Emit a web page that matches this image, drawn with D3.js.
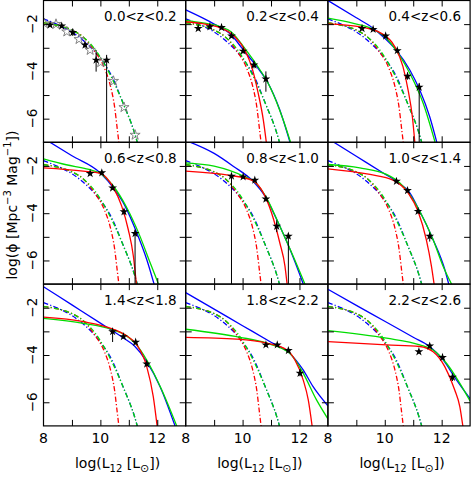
<!DOCTYPE html>
<html>
<head>
<meta charset="utf-8">
<title>luminosity functions</title>
<script src="https://d3js.org/d3.v7.min.js"></script>
<style>
  body { margin: 0; background: #fff; }
  text { font-family: "DejaVu Sans", sans-serif; }
</style>
</head>
<body>
<script>
// redshift bins, one panel each
var zLabels = ["0.0<z<0.2", "0.2<z<0.4", "0.4<z<0.6",
               "0.6<z<0.8", "0.8<z<1.0", "1.0<z<1.4",
               "1.4<z<1.8", "1.8<z<2.2", "2.2<z<2.6"]

var xTickLabels = [8, 10, 12]
var yTickLabels = [-2, -4, -6]
var xTicks = [9, 10, 11, 12]
var yTicks = [-2, -3, -4, -5, -6]

// local (z~0) fits, drawn dash-dot in every panel
var localBlue = [[8,-1.78],[8.5,-2.02],[9,-2.33],[9.5,-2.8],[10,-3.45],[10.4,-4.2],[10.8,-5.35],[11.2,-6.6],[11.32,-7.1]]
var localGreen = [[8,-1.95],[8.5,-2.05],[9,-2.25],[9.4,-2.55],[9.8,-3.05],[10.1,-3.6],[10.45,-4.4],[10.85,-5.5],[11.2,-6.6],[11.32,-7.1]]
var localRed = [[8,-1.95],[8.5,-2.05],[9,-2.25],[9.4,-2.55],[9.8,-3.15],[10.15,-3.88],[10.35,-4.6],[10.5,-5.5],[10.6,-6.5],[10.66,-7.1]]

// fits per bin (solid lines)
var blueFit = [
  null,
  [[8,-1.4],[9,-2.0],[9.6,-2.45],[10,-3.05],[10.5,-3.8],[10.9,-4.5],[11.3,-5.6],[11.68,-7.05]],
  [[8,-1.0],[9,-1.73],[9.6,-2.18],[10,-2.6],[10.4,-3.1],[10.88,-3.94],[11.23,-4.79],[11.58,-5.92],[11.84,-7.05]],
  [[8,-0.83],[9,-1.57],[10,-2.3],[10.46,-2.93],[10.87,-3.7],[11.28,-4.83],[11.63,-5.96],[11.9,-7.05]],
  [[8,-0.92],[9,-1.47],[9.67,-2.01],[10.37,-2.65],[10.79,-3.28],[11.2,-4.27],[11.67,-5.54],[12.15,-7.05]],
  [[8,-0.84],[9,-1.59],[10,-2.34],[10.41,-2.65],[10.88,-3.14],[11.23,-3.92],[11.7,-5.12],[12.11,-6.38],[12.26,-7.05]],
  [[8,-1.11],[9,-1.88],[10,-2.65],[10.8,-3.27],[11.2,-3.62],[11.63,-4.28],[12.1,-5.34],[12.64,-7.05]],
  [[8,-1.36],[9,-2.06],[10,-2.76],[11,-3.46],[11.66,-3.93],[12.13,-4.63],[12.48,-5.34],[13,-6.15]],
  [[8,-1.22],[9,-1.9],[10,-2.57],[11,-3.25],[11.58,-3.64],[12.05,-4.21],[12.52,-5.05],[13,-5.85]]
]
var greenFit = [
  null,
  [[8,-1.84],[8.6,-1.95],[9.2,-2.1],[9.65,-2.38],[10.08,-3.03],[10.5,-3.73],[10.96,-4.65],[11.43,-6.06],[11.7,-7.05]],
  [[8,-1.75],[8.9,-1.97],[9.6,-2.22],[10.06,-2.6],[10.47,-3.24],[10.88,-4.08],[11.35,-5.35],[11.78,-7.05]],
  [[8,-1.7],[8.8,-1.95],[9.6,-2.15],[10,-2.32],[10.46,-2.86],[10.93,-3.77],[11.39,-4.97],[11.75,-6.1],[12.06,-7.05]],
  [[8,-1.87],[9,-2.01],[10.02,-2.43],[10.49,-2.75],[10.84,-3.35],[11.31,-4.55],[11.78,-5.82],[12.21,-7.05]],
  [[8,-1.94],[9.12,-2.08],[10.06,-2.36],[10.53,-2.72],[10.88,-3.21],[11.23,-3.92],[11.7,-5.12],[12.05,-6.24],[12.37,-7.05]],
  [[8,-2.45],[9.4,-2.66],[10.46,-2.94],[10.87,-3.15],[11.22,-3.5],[11.63,-4.21],[12.16,-5.48],[12.7,-7.05]],
  [[8,-2.91],[9.91,-3.25],[10.85,-3.5],[11.66,-3.93],[12.13,-4.77],[12.6,-5.9],[13,-6.7]],
  [[8,-2.97],[10.06,-3.29],[11.23,-3.57],[11.7,-3.79],[12.17,-4.35],[12.64,-5.2],[13,-5.95]]
]
var redFit = [
  null,
  [[8,-1.9],[8.6,-1.98],[9.1,-2.11],[9.7,-2.5],[10.08,-3.1],[10.32,-3.8],[10.55,-4.93],[10.73,-6.06],[10.84,-7.05]],
  [[8,-1.99],[9.1,-2.11],[9.88,-2.39],[10.35,-2.95],[10.64,-3.8],[10.82,-4.79],[10.97,-5.92],[11.06,-7.05]],
  [[8,-2.08],[9.4,-2.22],[10,-2.32],[10.46,-2.93],[10.75,-3.7],[10.98,-4.69],[11.16,-5.82],[11.27,-7.05]],
  [[8,-2.22],[9.55,-2.4],[10.32,-2.6],[10.73,-3.14],[11.02,-3.99],[11.31,-5.26],[11.49,-6.24],[11.57,-7.05]],
  [[8,-2.12],[9.48,-2.36],[10.29,-2.6],[10.82,-3.14],[11.17,-3.92],[11.46,-5.12],[11.64,-6.24],[11.74,-7.05]],
  [[8,-2.4],[9.4,-2.59],[10.46,-2.91],[10.87,-3.15],[11.28,-3.57],[11.63,-4.49],[11.86,-5.76],[12.0,-7.05]],
  [[8,-3.25],[9.79,-3.33],[10.85,-3.5],[11.55,-3.78],[11.84,-4.21],[12.13,-5.05],[12.31,-5.9],[12.45,-7.05]],
  [[8,-3.43],[10.06,-3.57],[11.23,-3.64],[11.7,-3.86],[12.11,-4.49],[12.46,-5.48],[12.64,-6.19],[12.75,-7.05]]
]

// measured points: [logL, logphi, err low end, err high end]
var stars = [
  [[8.23,-2.04,-2.12,-1.96],[8.64,-2.08,-2.16,-2.0],[9.03,-2.35,-2.5,-2.2],[9.46,-2.88,-3.0,-2.76],[9.85,-3.52,-4.01,-3.1],[10.22,-3.52,-7.1,-3.3]],
  [[8.44,-2.18,-2.26,-2.1],[8.85,-2.11,-2.19,-2.03],[9.26,-2.14,-2.22,-2.06],[9.61,-2.5,-2.58,-2.42],[10.02,-3.14,-3.24,-3.04],[10.4,-3.73,-3.87,-3.55],[10.82,-4.32,-4.86,-4.0]],
  [[9.2,-2.18,-2.26,-2.1],[9.59,-2.22,-2.3,-2.14],[10.03,-2.5,-2.58,-2.42],[10.44,-3.12,-3.22,-3.02],[10.8,-4.2,-4.35,-4.05],[11.21,-4.67,-7.1,-4.5]],
  [[9.64,-2.32,-2.4,-2.24],[10.05,-2.29,-2.37,-2.21],[10.43,-2.93,-3.01,-2.85],[10.83,-3.94,-4.06,-3.82],[11.22,-4.86,-7.1,-4.7]],
  [[9.61,-2.43,-7.1,-2.3],[10.02,-2.46,-2.54,-2.38],[10.43,-2.6,-2.68,-2.52],[10.82,-3.4,-3.5,-3.3],[11.2,-4.55,-4.8,-4.3],[11.61,-4.97,-7.1,-4.85]],
  [[10.41,-2.65,-2.73,-2.57],[10.8,-3.04,-3.12,-2.96],[11.17,-3.92,-4.02,-3.82],[11.58,-4.97,-5.2,-4.85]],
  [[10.43,-3.01,-3.45,-2.9],[10.81,-3.22,-3.3,-3.14],[11.24,-3.46,-3.54,-3.38],[11.63,-4.38,-4.48,-4.28]],
  [[10.82,-3.57,-3.65,-3.49],[11.22,-3.57,-3.65,-3.49],[11.61,-3.81,-3.89,-3.73],[12.02,-4.77,-4.9,-4.6]],
  [[11.2,-3.86,-3.94,-3.78],[11.58,-3.62,-3.7,-3.54],[12.03,-4.1,-4.18,-4.02],[12.38,-4.94,-5.1,-4.8]]
]
// open stars, local sample in first bin
var localStars = [[8.03,-1.97],[8.44,-2.0],[8.82,-2.32],[9.25,-2.64],[9.64,-3.1],[10.01,-3.62],[10.46,-4.41],[10.83,-5.52],[11.22,-6.69]]

var W = 471, H = 477
var pw = 142.2, ph = 141.8
var left0 = 43.5, top0 = 0.5
var blue = "#0000ff", green = "#00dd00", red = "#ff0000"

var svg = d3.select("body").append("svg").attr("width", W).attr("height", H)
svg.append("rect").attr("width", W).attr("height", H).attr("fill", "#fff")

var x = d3.scaleLinear().domain([8, 13]).range([0, pw])
var y = d3.scaleLinear().domain([-7, -1]).range([ph, 0])

var line = d3.line()
  .x(function(d){ return x(d[0]) })
  .y(function(d){ return y(d[1]) })
  .curve(d3.curveMonotoneX)

zLabels.forEach(function(lab, i){
  var col = i % 3, row = Math.floor(i / 3)
  var g = svg.append("g")
    .attr("transform", "translate(" + (left0 + col * pw) + "," + (top0 + row * ph) + ")")

  g.append("clipPath").attr("id", "clip" + i)
    .append("rect").attr("width", pw).attr("height", ph)
  var plot = g.append("g").attr("clip-path", "url(#clip" + i + ")")

  // dash-dot local curves
  ;[[localBlue, blue], [localRed, red], [localGreen, green]].forEach(function(c){
    plot.append("path").datum(c[0]).attr("d", line)
      .attr("fill", "none").attr("stroke", c[1]).attr("stroke-width", 1.3)
      .attr("stroke-dasharray", "5,2.2,1.2,2.2")
  })

  // solid fits
  ;[[blueFit[i], blue], [greenFit[i], green], [redFit[i], red]].forEach(function(c){
    if (!c[0]) return
    plot.append("path").datum(c[0]).attr("d", line)
      .attr("fill", "none").attr("stroke", c[1]).attr("stroke-width", 1.3)
  })

  if (i == 0) {
    plot.selectAll(".open").data(localStars).enter().append("path")
      .attr("class", "open")
      .attr("d", d3.symbol(d3.symbolStar).size(32))
      .attr("transform", function(d){ return "translate(" + x(d[0]) + "," + y(d[1]) + ")" })
      .attr("fill", "none").attr("stroke", "#777").attr("stroke-width", 0.9)
  }

  // error bars
  plot.selectAll(".err").data(stars[i]).enter().append("line")
    .attr("class", "err")
    .attr("x1", function(d){ return x(d[0]) })
    .attr("x2", function(d){ return x(d[0]) })
    .attr("y1", function(d){ return y(d[2]) })
    .attr("y2", function(d){ return y(d[3]) })
    .attr("stroke", "#000").attr("stroke-width", 1)

  plot.selectAll(".pt").data(stars[i]).enter().append("path")
    .attr("class", "pt")
    .attr("d", d3.symbol(d3.symbolStar).size(24))
    .attr("transform", function(d){ return "translate(" + x(d[0]) + "," + y(d[1]) + ")" })
    .attr("fill", "#000")

  // inward ticks on all four sides
  var axes = [
    [d3.axisBottom(x).tickValues(xTicks), "translate(0," + ph + ")"],
    [d3.axisTop(x).tickValues(xTicks), "translate(0,0)"],
    [d3.axisLeft(y).tickValues(yTicks), "translate(0,0)"],
    [d3.axisRight(y).tickValues(yTicks), "translate(" + pw + ",0)"]
  ]
  axes.forEach(function(a){
    var ax = g.append("g").attr("transform", a[1])
      .call(a[0].tickSize(-6).tickFormat(""))
    ax.select(".domain").remove()
    ax.selectAll("line").attr("stroke", "#000").attr("stroke-width", 1)
  })

  g.append("rect").attr("width", pw).attr("height", ph)
    .attr("fill", "none").attr("stroke", "#000").attr("stroke-width", 1.2)

  g.append("text").attr("x", pw - 9).attr("y", 20.5)
    .attr("text-anchor", "end").attr("font-size", 13.5).text(lab)

  if (col == 0) {
    yTickLabels.forEach(function(v){
      g.append("text")
        .attr("transform", "translate(-6.5," + y(v) + ") rotate(-90)")
        .attr("text-anchor", "middle").attr("font-size", 13.5)
        .text("\u2212" + Math.abs(v))
    })
  }
  if (row == 2) {
    xTickLabels.forEach(function(v){
      g.append("text").attr("x", x(v)).attr("y", ph + 17.5)
        .attr("text-anchor", "middle").attr("font-size", 14)
        .text(v)
    })
    var t = g.append("text").attr("x", pw / 2 + 3).attr("y", ph + 42.5)
      .attr("text-anchor", "middle").attr("font-size", 14)
    t.append("tspan").text("log(L")
    t.append("tspan").attr("font-size", 10).attr("dy", 3.5).text("12")
    t.append("tspan").attr("dy", -3.5).text(" [L")
    t.append("tspan").attr("font-size", 11).attr("dy", 3.5).text("\u2299")
    t.append("tspan").attr("dy", -3.5).text("])")
  }
})

// y axis title
var yt = svg.append("text")
  .attr("transform", "translate(16.5,205) rotate(-90)")
  .attr("text-anchor", "middle").attr("font-size", 14)
yt.append("tspan").text("log(\u03d5 [Mpc")
yt.append("tspan").attr("font-size", 10).attr("dy", -6).text("\u22123")
yt.append("tspan").attr("dy", 6).text(" Mag")
yt.append("tspan").attr("font-size", 10).attr("dy", -6).text("\u22121")
yt.append("tspan").attr("dy", 6).text("])")
</script>
</body>
</html>
